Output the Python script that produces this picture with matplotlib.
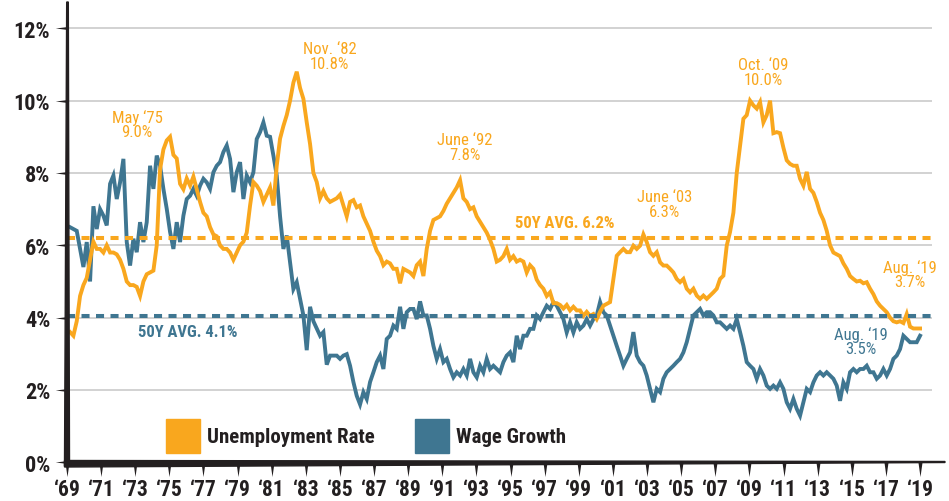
import numpy as np
import matplotlib
matplotlib.use('Agg')
import matplotlib.pyplot as plt
from matplotlib import font_manager
from matplotlib.patches import Polygon, Rectangle
from matplotlib.transforms import blended_transform_factory

# --- data ----------------------------------------------------------------
unemployment_rate = [
    3.6, 3.5, 3.9, 4.6, 4.9, 5.1, 5.6, 6.1, 5.9, 5.9, 5.8, 6.0, 5.8, 5.8, 5.75, 5.6,
    5.35, 5.0, 4.9, 4.9, 4.85, 4.6, 5.0, 5.2, 5.25, 5.3, 6.0, 8.1, 8.65, 8.9, 9.0, 8.5,
    8.4, 7.7, 7.55, 7.85, 7.65, 7.9, 7.55, 7.2, 6.9, 6.8, 6.5, 6.3, 6.25, 6.0, 5.9, 5.9,
    5.8, 5.6, 5.8, 6.0,
    6.1, 6.35, 7.1, 7.75, 7.65, 7.5, 7.2, 7.4, 7.6, 7.1, 8.2, 8.95, 9.3, 9.6, 10.0, 10.5,
    10.8, 10.35, 10.05, 9.4, 8.8, 8.0, 7.75, 7.3, 7.5, 7.3, 7.2, 7.25, 7.3, 7.4, 7.1, 6.8,
    7.2, 7.25, 7.05, 7.1, 6.8, 6.6, 6.4, 6.1, 5.85, 5.7, 5.45, 5.55, 5.5, 5.35, 5.35, 4.95,
    5.35, 5.3, 5.25,
    5.15, 5.45, 5.55, 5.15, 5.9, 6.4, 6.7, 6.75, 6.8, 6.95, 7.15, 7.3, 7.45, 7.6, 7.8, 7.3,
    7.2, 7.0, 7.05, 6.8, 6.65, 6.5, 6.35, 6.15, 5.9, 5.55, 5.6, 5.7, 5.9, 5.6, 5.7, 5.55,
    5.6, 5.55, 5.25, 5.45, 5.35, 5.05, 4.9, 4.8, 4.6, 4.7, 4.4, 4.4, 4.35, 4.25, 4.35, 4.2,
    4.3, 4.2,
    4.2, 4.05, 4.16, 4.05, 4.1, 3.96, 4.16, 4.33, 4.38, 4.43, 5.07, 5.71, 5.81, 5.9, 5.81, 5.81,
    5.99, 5.9, 5.99, 6.3, 6.09, 5.81, 5.71, 5.81, 5.53, 5.44, 5.44, 5.35, 5.25, 5.07, 4.98, 5.07,
    4.8, 4.7, 4.8, 4.61, 4.52, 4.61, 4.52, 4.61, 4.7, 4.8, 5.07, 5.16, 5.99, 6.37, 6.9,
    8.0, 8.75, 9.5, 9.6, 10.0, 9.87, 9.78, 9.96, 9.4, 9.6, 10.0, 9.1, 9.13, 9.1, 8.7, 8.35,
    8.25, 8.2, 8.2, 7.84, 7.65, 8.03, 7.56, 7.45, 7.2, 6.9, 6.7, 6.4, 6.0, 5.8, 5.75, 5.7,
    5.5, 5.35, 5.15, 5.07, 5.0, 5.02, 4.95, 4.98, 4.8, 4.65, 4.45, 4.33, 4.24, 4.15, 4.0, 3.9,
    3.87, 3.9, 3.85, 4.1, 3.75, 3.7, 3.7, 3.7,
]

wage_growth = [
    6.5, 6.45, 6.4, 5.9, 5.4, 6.09, 5.0, 7.08, 6.45, 7.0, 6.82, 6.55, 7.7, 7.93, 7.28, 7.74,
    8.39, 6.09, 5.44, 6.18, 5.81, 6.64, 6.09, 6.64, 8.2, 7.56, 8.48, 8.2, 7.56, 7.01, 6.37, 5.9,
    6.64, 6.09, 6.82, 7.28, 7.37, 7.56, 7.37, 7.65, 7.84, 7.74, 7.56, 8.02, 8.2, 8.3, 8.58, 8.76,
    8.39, 7.47, 8.02, 8.3,
    7.28, 7.93, 7.74, 8.02, 8.94, 9.13, 9.4, 9.03, 9.0, 8.48, 7.93, 6.8, 5.9, 6.27, 5.53, 4.79,
    4.98, 4.52, 4.06, 3.1, 4.3, 3.9, 3.7, 3.5, 3.6, 2.7, 2.95, 2.95, 2.95, 2.86, 2.95, 2.99,
    2.67, 2.22, 1.84, 1.6, 1.94, 1.75, 2.22, 2.49, 2.77, 2.95, 2.58, 3.41, 3.5, 3.78, 3.69, 4.3,
    3.69, 4.15, 4.24,
    4.24, 3.96, 4.45, 4.06, 4.06, 3.69, 3.22, 2.86, 3.13, 2.77, 2.86, 2.58, 2.35, 2.49, 2.4, 2.58,
    2.4, 2.86, 2.49, 2.35, 2.67, 2.49, 2.86, 2.58, 2.67, 2.58, 2.49, 2.77, 2.95, 3.04, 2.77, 3.5,
    3.13, 3.5, 3.5, 3.69, 3.69, 4.06, 3.96, 4.15, 4.33, 4.24, 4.43, 4.33, 4.15, 3.96, 3.59, 3.87,
    3.59, 3.87,
    3.69, 3.78, 3.96, 3.78, 3.96, 4.06, 4.43, 4.15, 4.06, 3.78, 3.5, 3.22, 2.95, 2.67, 2.86, 3.04,
    3.6, 2.95, 2.77, 2.67, 2.4, 2.03, 1.66, 2.03, 1.94, 2.31, 2.49, 2.58, 2.67, 2.77, 2.86, 3.04,
    3.32, 3.69, 4.06, 4.15, 4.24, 4.06, 4.15, 4.15, 4.06, 3.87, 3.87, 3.78, 3.69, 3.78, 3.69,
    3.96, 3.6, 3.22, 2.77, 2.67, 2.58, 2.31, 2.58, 2.4, 2.12, 2.03, 2.12, 2.03, 2.21, 2.03, 1.66,
    1.48, 1.75, 1.48, 1.29, 1.66, 2.03, 1.94, 2.21, 2.4, 2.49, 2.4, 2.49, 2.4, 2.31, 2.12, 1.7,
    2.21, 2.03, 2.49, 2.58, 2.49, 2.58, 2.58, 2.67, 2.49, 2.49, 2.31, 2.4, 2.58, 2.4, 2.58, 2.86,
    2.95, 3.13, 3.5, 3.41, 3.32, 3.32, 3.32, 3.5,
]

unemployment_avg = 6.2
wage_growth_avg = 4.05

tick_years = list(range(1969, 2020, 2))
tick_labels = ['\u2018%02d' % (y % 100) for y in tick_years]
pct_ticks = [0, 2, 4, 6, 8, 10, 12]
pct_labels = ['%d%%' % v for v in pct_ticks]

# (text, year, value, colour key)
callouts = [
    ('May \u201875\n9.0%', 1973.1, 9.36, 'u'),
    ('Nov. \u201882\n10.8%', 1984.4, 11.24, 'u'),
    ('June \u201892\n7.8%', 1992.3, 8.72, 'u'),
    ('June \u201803\n6.3%', 2004.05, 7.14, 'u'),
    ('Oct. \u201809\n10.0%', 2009.8, 10.79, 'u'),
    ('Aug. \u201819\n3.7%', 2018.4, 5.21, 'u'),
    ('Aug. \u201819\n3.5%', 2015.55, 3.36, 'w'),
]
avg_labels = [
    ('50Y AVG. 6.2%', 1998.2, 6.62, 'u'),
    ('50Y AVG. 4.1%', 1976.1, 3.62, 'w'),
]

# monthly-ish samples spread evenly over the period
dates = np.linspace(1969.18, 2019.0, len(unemployment_rate))

# --- style ------------------------------------------------------------------
ORANGE = '#F9A71E'
BLUE = '#3F7691'
INK = '#231F20'
GRID = '#CFCFCF'

available = {f.name for f in font_manager.fontManager.ttflist}
FONT = 'DejaVu Sans'
for cand in ['Liberation Sans Narrow', 'DejaVu Sans Condensed', 'Roboto Condensed', 'Open Sans Condensed']:
    if cand in available:
        FONT = cand
        break
plt.rcParams['font.family'] = [FONT, 'DejaVu Sans']

colours = {'u': ORANGE, 'w': BLUE}

W, H = 949, 502
fig = plt.figure(figsize=(W / 100, H / 100), dpi=100)
ax = fig.add_axes([67 / W, 38.7 / H, 865 / W, 459.3 / H])
ax.set_xlim(1969.0, 2019.7)
ax.set_ylim(0, 12.7)

ax.set_yticks(pct_ticks)
ax.set_yticklabels(pct_labels, fontsize=16, fontweight='bold', color=INK)
ax.set_xticks(tick_years)
ax.set_xticklabels(tick_labels, fontsize=15.5, fontweight='bold', color=INK)
ax.tick_params(axis='y', length=0, pad=12)
ax.tick_params(axis='x', length=0, pad=11)
ax.grid(axis='y', color=GRID, lw=1.3)
ax.set_axisbelow(True)
for s in ax.spines.values():
    s.set_visible(False)

ax.plot(dates, wage_growth, color=BLUE, lw=2.8, solid_joinstyle='miter', zorder=3)
ax.plot(dates, unemployment_rate, color=ORANGE, lw=2.8, solid_joinstyle='miter', zorder=3)

ax.axhline(unemployment_avg, color=ORANGE, lw=2.9, dashes=(2.0, 1.6), zorder=4)
ax.axhline(wage_growth_avg, color=BLUE, lw=2.9, dashes=(2.0, 1.6), zorder=4)

for txt, x, y, c in callouts:
    ax.text(x, y, txt, color=colours[c], fontsize=12, ha='center', va='center',
            linespacing=0.95, zorder=5)
for txt, x, y, c in avg_labels:
    ax.text(x, y, txt, color=colours[c], fontsize=12, fontweight='bold',
            ha='center', va='center', zorder=5)


def px(x, y):
    return (x / W, 1 - y / H)


# tapered axis lines
fig.add_artist(Polygon([px(64.5, 467), px(69.5, 467), px(68.3, 3), px(66.7, 3)],
                       closed=True, color=INK, transform=fig.transFigure, zorder=6))
fig.add_artist(Polygon([px(64.5, 461.5), px(64.5, 468), px(945, 463.5), px(945, 462.5)],
                       closed=True, color=INK, transform=fig.transFigure, zorder=6))

# spike tick marks
xt = blended_transform_factory(ax.transData, ax.transAxes)
yt = blended_transform_factory(ax.transAxes, ax.transData)
ax.plot(tick_years, [0] * len(tick_years), transform=xt, ls='none', clip_on=False,
        marker=[(-0.7, 0), (0.7, 0), (0, -5)], ms=21, color=INK, mew=0, zorder=6)
ax.plot([0] * len(pct_ticks), pct_ticks, transform=yt, ls='none', clip_on=False,
        marker=[(0, -0.6), (0, 0.6), (-5, 0)], ms=17, color=INK, mew=0, zorder=6)

# legend
for (x0, colour, label) in [(166, ORANGE, 'Unemployment Rate'), (415, BLUE, 'Wage Growth')]:
    fig.add_artist(Rectangle(px(x0, 454), 34 / W, 34 / H, color=colour,
                             transform=fig.transFigure))
    fig.text(*px(x0 + 41, 438), label, fontsize=15, fontweight='bold', color=INK,
             ha='left', va='center')

fig.savefig('out.png', dpi=100)
